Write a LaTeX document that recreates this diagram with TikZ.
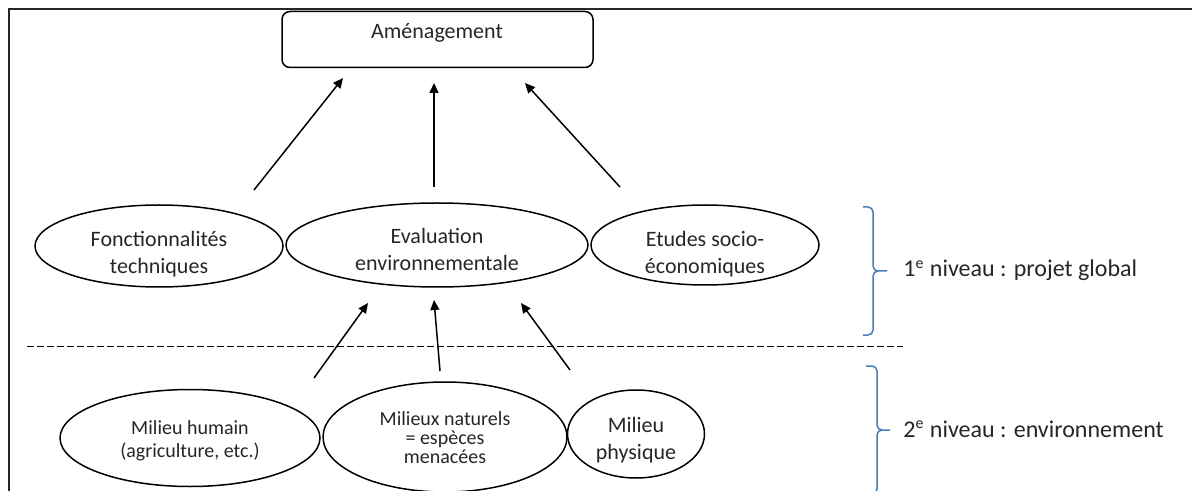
\documentclass[tikz,border=0pt]{standalone}
\usepackage{fontspec}
\setmainfont{Carlito}
\usetikzlibrary{shapes.geometric,arrows.meta}
\definecolor{bluebrace}{HTML}{4A7EBB}
\definecolor{txtgray}{HTML}{262626}
\begin{document}
\begin{tikzpicture}[x=0.5pt,y=-0.5pt,
  ell/.style={draw=black, line width=0.75pt, ellipse, inner sep=0pt},
  txt/.style={align=center, inner sep=0pt, text=txtgray, font=\fontsize{11}{13.5}\selectfont},
  txtsmall/.style={align=center, inner sep=0pt, text=txtgray, font=\fontsize{10}{11.5}\selectfont},
  txttight/.style={align=center, inner sep=0pt, text=txtgray, font=\fontsize{10}{9.5}\selectfont},
  lvl/.style={anchor=base west, inner sep=0pt, text=txtgray, font=\fontsize{12}{14}\selectfont},
  arr/.style={draw=black, line width=0.75pt, -{Triangle[length=5pt,width=4.5pt]}},
  bracestyle/.style={draw=bluebrace, line width=0.75pt},
  framestyle/.style={draw=black!85, line width=0.8pt},
  ]
\useasboundingbox (0,0) rectangle (1192,491);
% frame
\coordinate (ftl) at (9,9);
\coordinate (ftr) at (1200,9);
\coordinate (fbl) at (9,500);
\draw[framestyle] (ftr) -- (ftl) -- (fbl);

% top box
\node[draw=black, rounded corners=4pt, line width=0.75pt, minimum width=155.5pt, minimum height=28pt, inner sep=0pt] (amen) at (437.5,39.5) {};
\node[txt, anchor=base] (amentxt) at (437,39) {Aménagement};

% first level
\node[ell, minimum width=124pt, minimum height=41pt] (fonc) at (159,246) {};
\node[txt] (fonctxt) at (159,254) {Fonctionnalités\\techniques};
\node[ell, minimum width=151pt, minimum height=42pt] (eval) at (437,245) {};
\node[txt] (evaltxt) at (437,249) {Evaluation\\environnementale};
\node[ell, minimum width=114pt, minimum height=40pt] (etud) at (705,245) {};
\node[txt] (etudtxt) at (705,254) {Etudes socio-\\économiques};

% second level
\node[ell, minimum width=130pt, minimum height=48.5pt] (hum) at (190,438) {};
\node[txtsmall] (humtxt) at (190,441) {Milieu humain\\(agriculture, etc.)};
\node[ell, minimum width=122pt, minimum height=55pt] (nat) at (445,437) {};
\node[txttight] (nattxt) at (445,438) {Milieux naturels\\= espèces\\menacées};
\node[ell, minimum width=68.5pt, minimum height=44pt] (phy) at (636,434) {};
\node[txt] (phytxt) at (636,440) {Milieu\\physique};

% arrows to top box
\coordinate (a1s) at (254,190); \coordinate (a1e) at (343,78);
\coordinate (a2s) at (434,187); \coordinate (a2e) at (434,83);
\coordinate (a3s) at (620,187); \coordinate (a3e) at (525,83);
\draw[arr] (a1s) -- (a1e);
\draw[arr] (a2s) -- (a2e);
\draw[arr] (a3s) -- (a3e);

% arrows to evaluation
\coordinate (b1s) at (314,378); \coordinate (b1e) at (368,303);
\coordinate (b2s) at (440,371); \coordinate (b2e) at (434,300);
\coordinate (b3s) at (570,370); \coordinate (b3e) at (521,303);
\draw[arr] (b1s) -- (b1e);
\draw[arr] (b2s) -- (b2e);
\draw[arr] (b3s) -- (b3e);

% dashed separator
\coordinate (dl) at (27,346); \coordinate (dr) at (903,346);
\draw[black, line width=0.5pt, dash pattern=on 3.5pt off 1.5pt] (dl) -- (dr);

% braces
\draw[bracestyle] (863,207) -- (868,207) to[out=0,in=90] (873,212) -- (873,266)
  to[out=-90,in=180] (878,271) -- (887,271);
\draw[bracestyle] (878,271) to[out=180,in=90] (873,276) -- (873,330)
  to[out=-90,in=0] (868,335) -- (863,335);
\draw[bracestyle] (866,366) -- (872,366) to[out=0,in=90] (877,371) -- (877,425)
  to[out=-90,in=180] (882,430) -- (890,430);
\draw[bracestyle] (882,430) to[out=180,in=90] (877,435) -- (877,489)
  to[out=-90,in=0] (872,494) -- (866,494);

% level labels
\node[lvl] (niv1) at (903,277) {1\textsuperscript{e} niveau : projet global};
\node[lvl] (niv2) at (903,437) {2\textsuperscript{e} niveau : environnement};
\end{tikzpicture}
\end{document}
